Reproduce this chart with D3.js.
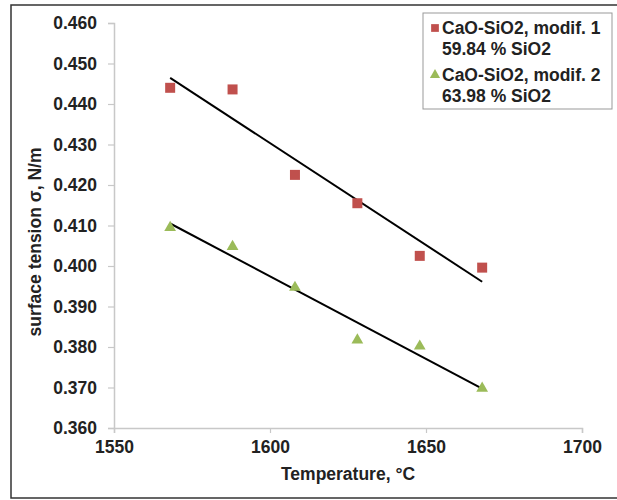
<!DOCTYPE html>
<html>
<head>
<meta charset="utf-8">
<script src="https://cdn.jsdelivr.net/npm/d3@7"></script>
<style>
    body { margin: 0; background: #fff; }
    svg text { font-family: "Liberation Sans", Arial, sans-serif; font-weight: bold; fill: #222; }
</style>
</head>
<body>
<script>
//wrap everything in a self-executing anonymous function
(function(){

    //chart data
    var temps = [1568, 1588, 1608, 1628, 1648, 1668]; //temperature, °C
    var tension1 = [0.4440, 0.4436, 0.4225, 0.4155, 0.4025, 0.3996]; //modif. 1
    var tension2 = [0.4095, 0.4048, 0.3947, 0.3817, 0.3802, 0.3698]; //modif. 2
    var xTicks = [1550, 1600, 1650, 1700];
    var yTicks = [0.360, 0.370, 0.380, 0.390, 0.400, 0.410, 0.420, 0.430, 0.440, 0.450, 0.460];
    var seriesNames = [["CaO-SiO2, modif. 1", "59.84 % SiO2"], ["CaO-SiO2, modif. 2", "63.98 % SiO2"]];

    var fontSize = "17.5px";

    window.onload = drawChart();

function drawChart(){

    var width = 617,
        height = 500;

    var svg = d3.select("body")
        .append("svg")
        .attr("width", width)
        .attr("height", height);

    //outer frame
    svg.append("rect")
        .attr("x", 11)
        .attr("y", 5)
        .attr("width", 640)
        .attr("height", 493)
        .attr("fill", "none")
        .attr("stroke", "#333")
        .attr("stroke-width", 1.5);

    var x = d3.scaleLinear().domain([1550, 1700]).range([114, 582]);
    var y = d3.scaleLinear().domain([0.360, 0.460]).range([428, 23]);

    //axes
    var yAxis = svg.append("g")
        .attr("transform", "translate(114,0)")
        .call(d3.axisLeft(y).tickValues(yTicks).tickFormat(d3.format(".3f")).tickSize(6).tickPadding(11));

    var xAxis = svg.append("g")
        .attr("transform", "translate(0,428)")
        .call(d3.axisBottom(x).tickValues(xTicks).tickFormat(d3.format("d")).tickSize(5).tickPadding(8));

    [yAxis, xAxis].forEach(function(ax){
        ax.select(".domain").attr("stroke", "#c8c8c8").attr("stroke-width", 1.5);
        ax.selectAll(".tick line").attr("stroke", "#c8c8c8").attr("stroke-width", 1.2);
        ax.selectAll(".tick text").attr("fill", "#222").style("font-size", fontSize);
    });

    //axis titles
    svg.append("text")
        .attr("x", 348)
        .attr("y", 480)
        .attr("text-anchor", "middle")
        .style("font-size", fontSize)
        .text("Temperature, °C");

    svg.append("text")
        .attr("transform", "translate(41,242) rotate(-90)")
        .attr("text-anchor", "middle")
        .style("font-size", fontSize)
        .text("surface tension σ, N/m");

    //trend lines (least squares)
    [tension1, tension2].forEach(function(vals){
        var fit = linFit(temps, vals);
        var x0 = d3.min(temps), x1 = d3.max(temps);
        svg.append("line")
            .attr("x1", x(x0))
            .attr("y1", y(fit.a + fit.b * x0))
            .attr("x2", x(x1))
            .attr("y2", y(fit.a + fit.b * x1))
            .attr("stroke", "#000")
            .attr("stroke-width", 2);
    });

    //squares
    svg.selectAll(".sq")
        .data(temps)
        .enter()
        .append("path")
        .attr("class", "sq")
        .attr("d", d3.symbol().type(d3.symbolSquare).size(100))
        .attr("transform", function(d, i){ return "translate(" + x(d) + "," + y(tension1[i]) + ")"; })
        .attr("fill", "#c0504d");

    //triangles
    svg.selectAll(".tri")
        .data(temps)
        .enter()
        .append("path")
        .attr("class", "tri")
        .attr("d", d3.symbol().type(d3.symbolTriangle).size(60))
        .attr("transform", function(d, i){ return "translate(" + x(d) + "," + y(tension2[i]) + ")"; })
        .attr("fill", "#9bbb59");

    drawLegend(svg);
};

function linFit(xs, ys){
    var mx = d3.mean(xs), my = d3.mean(ys);
    var sxy = 0, sxx = 0;
    for (var i=0; i<xs.length; i++){
        sxy += (xs[i] - mx) * (ys[i] - my);
        sxx += (xs[i] - mx) * (xs[i] - mx);
    };
    var b = sxy / sxx;
    return { a: my - b * mx, b: b };
};

function drawLegend(svg){
    var lg = svg.append("g");

    lg.append("rect")
        .attr("x", 423)
        .attr("y", 13)
        .attr("width", 189)
        .attr("height", 96)
        .attr("fill", "#fff")
        .attr("stroke", "#999")
        .attr("stroke-width", 1);

    var colors = ["#c0504d", "#9bbb59"];
    var symbols = [d3.symbolSquare, d3.symbolTriangle];
    var sizes = [60, 45];

    seriesNames.forEach(function(lines, i){
        var top = 28 + i * 47;
        lg.append("path")
            .attr("d", d3.symbol().type(symbols[i]).size(sizes[i]))
            .attr("transform", "translate(435," + top + ")")
            .attr("fill", colors[i]);
        lines.forEach(function(t, j){
            lg.append("text")
                .attr("x", 442)
                .attr("y", top + j * 21 + 6)
                .style("font-size", fontSize)
                .text(t);
        });
    });
};

})();
</script>
</body>
</html>
